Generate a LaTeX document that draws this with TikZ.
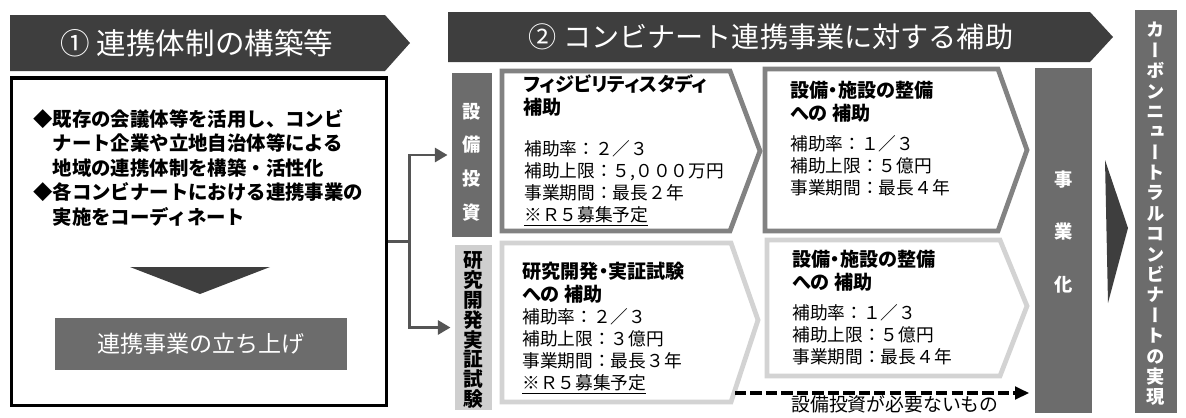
\documentclass[tikz,border=0pt]{standalone}
\usepackage{fontspec}
\setmainfont{Noto Sans CJK JP}
\newfontfamily\titlefont[RawFeature=+palt]{Noto Sans CJK JP}
\newfontfamily\vertfont[RawFeature=+vert]{Noto Sans CJK JP}
\usetikzlibrary{arrows.meta,positioning}

\definecolor{bandgray}{HTML}{3E3E3E}
\definecolor{colgray}{HTML}{6C6C6C}
\definecolor{linkgray}{HTML}{555555}
\definecolor{chevdark}{HTML}{828282}
\definecolor{chevlight}{HTML}{D3D3D3}
\definecolor{labellight}{HTML}{CFCFCF}

\tikzset{
  bandtext/.style={text=white,inner sep=0pt,font=\fontsize{20pt}{24pt}\selectfont},
  colbox/.style={fill=colgray,inner sep=0pt},
  vlabel/.style={align=center,inner sep=0pt},
  chevup/.style={draw=chevdark,line width=3.4pt,line join=miter,fill=white},
  chevlow/.style={draw=chevlight,line width=3.4pt,line join=miter,fill=white},
  boxtitle/.style={anchor=west,align=left,inner sep=0pt,font=\titlefont\bfseries\fontsize{13.6pt}{16.3pt}\selectfont},
  boxbody/.style={anchor=west,align=left,inner sep=0pt,font=\fontsize{12.6pt}{15.7pt}\selectfont},
  link/.style={draw=linkgray,line width=2pt},
}

\begin{document}
\begin{tikzpicture}[x=0.025cm,y=-0.025cm]
\useasboundingbox (0,0) rectangle (1186,417);

% banners
\fill[bandgray] (10,15) -- (385,15) -- (410,43) -- (385,71) -- (10,71) -- cycle;
\node[bandtext,font=\fontsize{21pt}{24pt}\selectfont] (bandA) at (197,43) {① 連携体制の構築等};
\fill[bandgray] (448,12) -- (1090,12) -- (1113,37) -- (1090,62) -- (448,62) -- cycle;
\node[bandtext] (bandB) at (771,37) {② コンビナート連携事業に対する補助};

% left frame
\node[draw,line width=2.2pt,minimum width=9.35cm,minimum height=8.175cm] (frame) at (199,241.5) {};
\node[boxbody,font=\bfseries\fontsize{13.8pt}{17.4pt}\selectfont] (aims) at (33,168)
  {◆既存の会議体等を活用し、コンビ\\\phantom{◆}ナート企業や立地自治体等による\\\phantom{◆}地域の連携体制を構築・活性化\\◆各コンビナートにおける連携事業の\\\phantom{◆}実施をコーディネート};
\fill[bandgray] (130,267) -- (270,267) -- (200,294) -- cycle;
\node[fill=colgray,text=white,minimum width=7.3cm,minimum height=1.3cm,font=\fontsize{16.4pt}{18pt}\selectfont] (launch) at (201,344) {連携事業の立ち上げ};

% row labels
\node[colbox,minimum width=1cm,minimum height=4.1cm] (invest) at (472,155) {};
\node[vlabel,text=white,font=\bfseries\fontsize{13pt}{24pt}\selectfont] (investtxt) at (472,162) {設\\備\\投\\資};
\node[fill=labellight,inner sep=0pt,minimum width=0.925cm,minimum height=4.125cm] (rnd) at (473.5,327.5) {};
\node[vlabel,font=\bfseries\fontsize{14pt}{14.2pt}\selectfont] (rndtxt) at (473.5,330) {研\\究\\開\\発\\実\\証\\試\\験};

\draw[link] (frame.east) -- ++(22,0) coordinate (split);
\draw[link,-{Triangle[length=9pt,width=10pt]},shorten >=3pt] (split) |- (invest.west);
\draw[link,-{Triangle[length=9pt,width=10pt]},shorten >=3pt] (split) |- (rnd.west);

% subsidy chevrons
\draw[chevup] (502,71) -- (730,71) -- (760,151) -- (730,231) -- (502,231) -- cycle;
\draw[chevup] (765,69) -- (998,69) -- (1027,150) -- (998,231) -- (765,231) -- cycle;
\draw[chevlow] (502,243) -- (731,243) -- (758,320) -- (731,402) -- (502,402) -- cycle;
\draw[chevlow] (767,240) -- (1000,240) -- (1027,306) -- (1000,376) -- (767,376) -- cycle;

\node[boxtitle] (fsT) at (523,95.5) {フィジビリティスタディ\\補助};
\node[boxbody] (fsB) at (524,183) {補助率：２／３\\補助上限：５,０００万円\\事業期間：最長２年\\\underline{※Ｒ５募集予定}};
\node[boxtitle] (eqAT) at (790,101.5) {設備・施設の整備\\への 補助};
\node[boxbody] (eqAB) at (790,166) {補助率：１／３\\補助上限：５億円\\事業期間：最長４年};
\node[boxtitle] (rdT) at (522,283) {研究開発・実証試験\\への 補助};
\node[boxbody] (rdB) at (522,351) {補助率：２／３\\補助上限：３億円\\事業期間：最長３年\\\underline{※Ｒ５募集予定}};
\node[boxtitle] (eqBT) at (792,271) {設備・施設の整備\\への 補助};
\node[boxbody] (eqBB) at (792,335) {補助率：１／３\\補助上限：５億円\\事業期間：最長４年};

% business column and goal
\node[colbox,minimum width=1.425cm,minimum height=8.625cm] (biz) at (1063.5,240.5) {};
\node[vlabel,text=white,font=\bfseries\fontsize{13pt}{37pt}\selectfont] (biztxt) at (1063.5,232) {事\\業\\化};

\coordinate (nofac) at (735,393);
\draw[line width=2.2pt,dash pattern=on 8pt off 3pt,-{Triangle[length=10pt,width=9pt]},shorten >=4pt] (nofac) -- (nofac -| biz.west);
\node[boxbody,anchor=center,font=\fontsize{13.4pt}{16pt}\selectfont] (nofactxt) at (895,404) {設備投資が必要ないもの};

\fill[bandgray] (1105,160) -- (1128,228) -- (1108,303) -- cycle;
\node[colbox,minimum width=1.05cm,minimum height=10.075cm] (goal) at (1156,211.5) {};
\node[vlabel,text=white,font=\vertfont\bfseries\fontsize{13pt}{14.5pt}\selectfont] (goaltxt) at (1156,214)
  {カ\\ー\\ボ\\ン\\ニ\\ュ\\ー\\ト\\ラ\\ル\\コ\\ン\\ビ\\ナ\\ー\\ト\\の\\実\\現};
\end{tikzpicture}
\end{document}
